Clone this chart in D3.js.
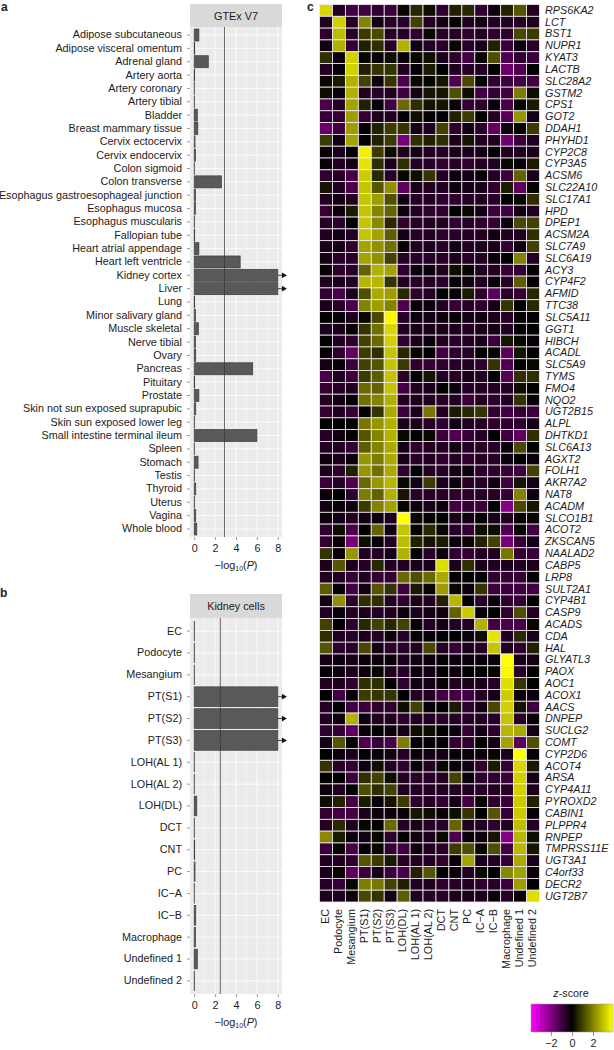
<!DOCTYPE html>
<html lang="en">
<head>
<meta charset="UTF-8">
<title>Kidney heritability panels</title>
<script src="https://d3js.org/d3.v7.min.js"></script>
<style>
    html, body {margin: 0; padding: 0; background: #fff;}
    svg {display: block;}
    text {font-family: "Liberation Sans", Arial, sans-serif; fill: #1c1c1c;}
</style>
</head>
<body>
<svg id="figure" width="614" height="1050"></svg>
<script>
// panel a
let tissues = ["Adipose subcutaneous","Adipose visceral omentum","Adrenal gland","Artery aorta","Artery coronary","Artery tibial","Bladder","Breast mammary tissue","Cervix ectocervix","Cervix endocervix","Colon sigmoid","Colon transverse","Esophagus gastroesophageal junction","Esophagus mucosa","Esophagus muscularis","Fallopian tube","Heart atrial appendage","Heart left ventricle","Kidney cortex","Liver","Lung","Minor salivary gland","Muscle skeletal","Nerve tibial","Ovary","Pancreas","Pituitary","Prostate","Skin not sun exposed suprapubic","Skin sun exposed lower leg","Small intestine terminal ileum","Spleen","Stomach","Testis","Thyroid","Uterus","Vagina","Whole blood"]
let tissue_p = [0.45,0.05,1.35,0.05,0.03,0.03,0.3,0.35,0.08,0.12,0.03,2.6,0.12,0.12,0.04,0.05,0.45,4.4,8,8,0.05,0.12,0.4,0.12,0.15,5.6,0.05,0.45,0.15,0.04,6,0.03,0.37,0.04,0.15,0.04,0.15,0.25]
let tissue_cutoff = 2.9

// panel b
let cell_types = ["EC","Podocyte","Mesangium","PT(S1)","PT(S2)","PT(S3)","LOH(DL)","LOH(AL 1)","LOH(AL 2)","DCT","CNT","PC","IC−A","IC−B","Macrophage","Undefined 1","Undefined 2"]
let cell_order_b = ["EC","Podocyte","Mesangium","PT(S1)","PT(S2)","PT(S3)","LOH(AL 1)","LOH(AL 2)","LOH(DL)","DCT","CNT","PC","IC−A","IC−B","Macrophage","Undefined 1","Undefined 2"]
let cell_p = [0.03,0.03,0.03,8,8,8,0.02,0.02,0.25,0.02,0.05,0.08,0.02,0.15,0.12,0.3,0.04]
let cell_cutoff = 2.5

let p_ticks = [0,2,4,6,8]
let p_minor = [1,3,5,7]
let p_cap = 8

// panel c, one row per gene, same order as cell_types
let genes = ["RPS6KA2","LCT","BST1","NUPR1","KYAT3","LACTB","SLC28A2","GSTM2","CPS1","GOT2","DDAH1","PHYHD1","CYP2C8","CYP3A5","ACSM6","SLC22A10","SLC17A1","HPD","DPEP1","ACSM2A","SLC7A9","SLC6A19","ACY3","CYP4F2","AFMID","TTC38","SLC5A11","GGT1","HIBCH","ACADL","SLC5A9","TYMS","FMO4","NQO2","UGT2B15","ALPL","DHTKD1","SLC6A13","AGXT2","FOLH1","AKR7A2","NAT8","ACADM","SLCO1B1","ACOT2","ZKSCAN5","NAALAD2","CABP5","LRP8","SULT2A1","CYP4B1","CASP9","ACADS","CDA","HAL","GLYATL3","PAOX","AOC1","ACOX1","AACS","DNPEP","SUCLG2","COMT","CYP2D6","ACOT4","ARSA","CYP4A11","PYROXD2","CABIN1","PLPPR4","RNPEP","TMPRSS11E","UGT3A1","C4orf33","DECR2","UGT2B7"]
let zscores = [
[3.3,-.5,-1,-1,-.7,-.9,.1,.6,.2,-.7,.5,.6,-.7,-.2,.5,1.3,-.5],
[-.5,3.2,-.5,2,-.3,-.6,-.6,1,-.5,-.3,.05,-.5,-.3,-.5,-.5,-.6,-.4],
[-.7,2.9,-.6,.9,1.1,-.6,-.6,-.7,.1,-.6,-.6,-.7,-.5,-.7,-.7,1.1,.9],
[-.3,2.7,-.8,.5,.7,-.6,2.7,-.2,-.5,-.6,.1,-.6,-.4,.5,-.9,-.2,-.6],
[.7,-.2,3.2,.1,-.1,.2,-.1,.1,.2,-.4,-.7,-1,.1,1.2,-1.2,-.7,-.9],
[-.5,-.1,3.2,.5,.8,.8,-.5,-.1,.4,0,-.5,-.6,-.5,0,-1.6,-1.2,0],
[.1,.4,2.7,1,-.2,.8,-1.1,.1,.05,.3,-1.2,1.1,.05,-.7,-.9,-1,-1],
[.2,-.2,2.7,-.5,-.6,-.5,-1,-.3,.3,.3,1.2,.2,-1,-.8,-1,1.9,.2],
[-1.1,-.6,2.5,.5,-.1,-1,1.6,.7,.3,.3,-.2,-.8,-.7,-.2,-1.1,.1,.4],
[-.8,-.8,2.4,-.8,-.4,-.5,0,.2,0,0,.5,.9,0,-.6,-1.3,2.3,-.3],
[-1.6,-1,2.4,-.1,.5,.9,.8,-.3,-.5,1,-.7,-.3,-.6,-1.5,-.3,.1,.9],
[.9,-.3,2.5,0,.5,.9,-1.8,.7,.5,.7,-.4,.3,-.5,-.5,-1.7,-.9,-.5],
[-.2,-.4,0,3.7,.9,.2,-.5,-.3,-.5,-.5,-.4,-.4,-.3,-.1,-.5,-.5,-.4],
[-.1,-.5,-.3,3.5,.7,-.4,.7,-.5,-.6,-.7,-.6,-.7,-.5,-.5,.1,-.1,.4],
[-.7,-.6,-1.1,3.1,.6,-.6,.1,.2,.8,-.5,-.2,-.3,-.1,-.5,-.9,1.5,-.4],
[.3,-.5,-1.2,3,1.3,2.2,-1.4,-.4,-.5,-.5,-.2,-.3,-.4,-.7,.4,-1.4,.05],
[-.5,-.3,-.5,3,2.4,1.2,-.3,-.6,-.5,-.7,-.7,-.6,-.5,-.6,0,.1,.7],
[-.8,-.2,.4,3,2,1.5,-.2,-.5,-.7,-.7,0,.1,-.3,-.9,-1,-.3,-.5],
[-.6,-.7,0,3,2.1,.6,-.7,-.6,-.5,-.5,-.8,-.6,-.7,-.8,-.2,1.1,1],
[-.5,-.3,-.5,3,2.5,1.4,-.3,-.6,-.5,-.7,-.6,-.6,-.5,-.3,-.5,-.5,.7],
[-.4,-.3,-.7,2.5,2.2,1.7,-.1,-.5,-.4,-.6,-.3,-.5,-.4,-.4,-.8,-.2,1],
[-.3,-.6,-.6,2.5,2.2,1,-.6,-.6,-.6,-.6,-.4,-.6,-.5,-.2,0,2,-.5],
[-.1,-.7,-.6,1.5,2.7,2.5,-.7,-.2,-.2,-.5,.2,.1,-.5,-.5,-.8,-.8,0],
[-.5,-.4,-.5,2.8,2.8,.8,-.5,-.6,-.5,-.6,-.1,-.3,-.5,-.1,-.6,1.4,-.1],
[-.7,-1.1,-.4,1.2,2.6,2.4,.6,-.7,-.5,0,-.1,.4,-.7,-1.4,-.6,-.8,.6],
[-.4,-.6,-1.1,2,2.4,2,-1.2,-.1,-.2,-.5,-.8,-.6,-.7,-.3,.8,0,.6],
[0,-.1,-.4,.1,1.1,3.8,-.6,-.2,-.3,-.2,-.1,-.3,-.2,-.4,-.6,-.1,0],
[-.4,-.4,-.1,.8,1.7,3.3,-.5,-.4,-.4,-.4,-.4,-.5,-.4,-.3,-.5,0,0],
[0,-.5,-.7,1,1.6,3.2,-.7,-.4,-.2,-.5,-.6,-.5,-.4,-.9,.3,.1,-.1],
[-.1,-.7,-1.5,.9,.7,3,.6,.1,0,-1,-.7,-.6,0,.1,-1.4,.3,0],
[-.3,-.1,-.9,1,1.3,3,.9,-.7,-.8,-.7,-.6,-.6,-.7,.8,-1.2,0,.1],
[-1.1,-.5,-.9,.9,1.4,3,-.6,0,.3,-.5,-.5,-.4,-.5,-.1,-1.3,.7,.7],
[-.8,-.6,-.5,1.6,1.5,3,-1,-.5,-.4,0,-.2,-.6,-.5,-.5,-.6,.2,0],
[-.5,-.3,0,1.7,2,2.7,-.5,-.4,-.5,-.6,-.5,-.9,-.5,-.7,-.5,.8,-.1],
[-.8,-.5,-.8,-.05,.8,2.6,-.9,-.4,1.8,-.5,.4,.6,.8,-.8,-1,-.8,-.9],
[0,0,0,1.8,2.3,2.7,-.4,-.4,-.6,-.7,-.3,-.5,-.6,-.7,-.7,-.7,-.3],
[-.6,-.2,0,1.3,2,2.7,.1,0,.1,-.9,-1.2,-.8,-.5,0,-.9,-1.4,.7],
[-.5,-.5,-.8,1.4,2,2.6,-.3,-.7,-.5,-.5,-.3,-.5,-.6,-.6,-.2,1.1,0],
[-.2,-.4,-.1,2.3,1.9,2.6,-.4,-.6,-.5,-.7,-.6,-.7,-.5,-.6,-.2,0,-.2],
[-.4,-.7,.5,2.3,1.7,2.6,-.7,0,-.5,-.6,-.3,-.2,-.6,-.7,-.8,-1,1],
[-.9,-.6,-1.2,1.6,2.3,2.8,.1,-.3,.9,-.4,-.2,-.6,-.6,-.3,-1,.3,-.3],
[-.2,0,-.7,1.9,1.5,2.7,.3,-.6,-.6,-.6,-.7,-.7,-.6,-.6,-.8,2,-.2],
[-.3,-.1,-.2,.9,2,2.5,.1,-.2,-.4,-.2,-1,-.8,-.9,0,-2,1.1,.3],
[-.2,-.3,-.5,-.3,-.2,-.4,3.9,.1,.05,0,-.4,-.3,0,-.4,-.5,-.1,.1],
[-.7,.2,-1.1,0,1.5,-.3,3,0,.6,.1,-.6,-.8,.2,.2,-1.2,.1,-1],
[-.8,-.1,-1.8,.2,-.1,-.5,2.9,.5,.3,.4,-.2,.1,.5,1,-1.8,-.8,-.3],
[.8,-.2,2.3,-.5,-.5,-.3,2.7,-.1,-.6,-.2,-.7,-.8,-.5,-.4,1.8,-.8,-.8],
[-.4,1.3,-.4,-.6,.6,-.5,-.5,-.4,-.4,3.4,-.4,.7,-.4,-.5,-.4,-.5,-.4],
[-.5,-.5,-.8,-.5,-.8,-.8,1.6,1.2,1.6,2.6,0,0,0,-.7,-.8,-.8,0],
[1.4,-.1,-1,-.3,1.3,.8,-1,.4,.1,2.4,.1,-.2,.8,-.9,-.9,-1,-1],
[-.3,2.2,-.7,.7,.7,-.5,-.7,-.4,-.5,.5,2.8,0,-.6,-.2,-.7,-.8,0],
[-.5,-.2,-.5,-.4,-.5,-.5,-.2,-.4,-.3,-.2,1.5,3.1,-.1,0,-.7,1.2,-.5],
[1,0,-.7,.6,1,.6,1,-.1,-.5,-.3,-.5,-.5,2.7,-1,-1.1,-1.1,.1],
[.7,-.5,-.6,-.4,-.5,-.2,-.6,-.1,-.1,0,0,-.2,.2,3.5,-.5,.6,-.4],
[1.3,-.7,-.6,1.1,-.3,-.7,-.6,-.5,1.1,-.5,-.8,-.4,-.6,3,-.5,-.7,.5],
[-.3,-.2,-.3,-.2,-.2,-.1,-.4,-.3,-.2,-.1,-.2,-.2,-.1,-.2,3.9,-.4,-.3],
[-.1,-.3,-.4,-.2,.1,-.5,-.6,-.2,-.3,0,-.2,0,0,.1,3.8,-.6,0],
[-.5,-.4,-.7,.7,.7,0,-.7,-.3,-.3,-.1,-.5,-.4,-.4,-.6,3.4,.8,0],
[0,-1,-.1,.9,.8,.8,0,-.5,-.5,-1,-1,-1,-.5,-.3,3.1,-.2,-.2],
[-.6,0,-1,-.9,-.7,-.7,.2,1,-.1,0,.4,-.7,-.3,1.1,3.2,.3,-.9],
[-.5,-.3,2.7,-.2,-.5,-.5,-.7,-.5,-.5,-.7,-.5,-.6,-.5,-.6,3,-.6,-.1],
[-.7,-.8,-1.4,-.1,0,-.2,-.3,.2,.2,0,-.2,-.8,-.3,-.7,2.8,2.6,-.3],
[-.3,1.3,0,-1.2,-.8,-1.1,1.9,0,-.1,0,-.8,-.7,0,-.3,2.5,-1.4,1.2],
[0,-.2,-.4,-.1,-.1,-.3,-.5,-.2,-.3,-.3,-.1,-.2,-.2,.1,-.4,3.9,-.1],
[.8,-.6,-.7,-.2,.2,-.5,-.7,-.1,-.5,.1,-.1,-.3,-.7,.4,-.8,3.3,.4],
[0,0,-.9,.7,1,.2,-.5,-.6,-.6,-.5,1,-.1,-.7,-.7,-.9,3.2,-.3],
[-.2,-.5,0,1.2,.7,1,-.5,-.5,-.5,-.5,-.6,-.5,-.6,-.5,-.6,3.2,-.4],
[.2,.5,-1,.4,-.1,.3,.9,-.7,-.5,-.8,-.3,-1,.1,-.7,-.9,3.1,.5],
[-.8,-1,-1,-.4,-.2,-.2,-.1,.3,.2,-.1,.2,.8,0,1.3,-.8,3.1,-.1],
[-.5,.6,-.4,.1,0,1.6,-.5,-.4,-.6,-.6,1.5,-.5,-.5,-.7,-.5,2.9,-.5],
[2.1,.4,-.2,-.3,.1,-.7,0,-.3,-.4,.1,-1.1,-.1,-.2,.3,-2,2.8,.2],
[-.9,.1,-1.1,-.1,.1,-.8,-1,-.2,-.5,-.6,.9,1.2,.1,1.2,-1,2.8,.3],
[-.5,-.5,-.7,1.3,.9,.4,-.6,-.5,-.5,-.7,-.1,2.5,-.4,-.5,-.8,2.6,-.4],
[-.4,.1,-1.4,-.9,-.3,-.9,-1.1,.5,1.3,0,-.1,-.5,.1,0,2.1,2.5,-.2],
[-.6,-.8,.1,1.9,1.8,1,.5,-.5,-.5,-.7,-.6,-.5,-.7,-.6,-.9,2.4,-.05],
[-.4,-.4,-.2,1.1,.8,-.3,1.4,-.4,-.6,-.6,-.4,-.4,-.4,-.2,-.5,-.1,3.4]
]
let z_ticks = [-2,0,2]
let z_limit = 3.9

let svg = d3.select("#figure")
let label_size = 10.8

// magenta, black, yellow
let z_color = d3.scaleLinear()
    .domain([-z_limit,0,z_limit])
    .range(["#ff00ff","#000000","#ffff00"])

function bar_panel(names, values, cutoff, title, top, strip_h, bottom) {
    let x = d3.scaleLinear().domain([-0.4,8.4]).range([190,282])
    let y = d3.scaleBand().domain(names).range([top + strip_h, bottom]).paddingInner(0.1).paddingOuter(0.15)
    let g = svg.append("g")

    g.append("rect").attr("x",x.range()[0]).attr("y",top)
        .attr("width",x.range()[1]-x.range()[0]).attr("height",strip_h).attr("fill","#d9d9d9")
    g.append("text").attr("x",d3.mean(x.range())).attr("y",top+strip_h/2+4)
        .attr("text-anchor","middle").attr("font-size",label_size).text(title)
    g.append("rect").attr("x",x.range()[0]).attr("y",top+strip_h)
        .attr("width",x.range()[1]-x.range()[0]).attr("height",bottom-top-strip_h).attr("fill","#ebebeb")

    // grid
    g.selectAll(".minor").data(p_minor).join("line")
        .attr("x1",d=>x(d)).attr("x2",d=>x(d)).attr("y1",top+strip_h).attr("y2",bottom)
        .attr("stroke","#fff").attr("stroke-width",0.4)
    g.selectAll(".major").data(p_ticks).join("line")
        .attr("x1",d=>x(d)).attr("x2",d=>x(d)).attr("y1",top+strip_h).attr("y2",bottom)
        .attr("stroke","#fff").attr("stroke-width",0.8)
    g.selectAll(".hgrid").data(names).join("line")
        .attr("x1",x.range()[0]).attr("x2",x.range()[1])
        .attr("y1",d=>y(d)+y.bandwidth()/2).attr("y2",d=>y(d)+y.bandwidth()/2)
        .attr("stroke","#fff").attr("stroke-width",0.8)

    // bars
    g.selectAll(".bar").data(names).join("rect")
        .attr("x",x(0))
        .attr("y",d=>y(d))
        .attr("width",(d,i)=>x(values[i])-x(0))
        .attr("height",y.bandwidth())
        .attr("fill","#595959").attr("stroke","#3d3d3d").attr("stroke-width",0.7)

    // cutoff line
    g.append("line").attr("x1",x(cutoff)).attr("x2",x(cutoff))
        .attr("y1",top+strip_h).attr("y2",bottom)
        .attr("stroke","#333").attr("stroke-width",0.7)

    // arrows for the bars past the axis limit
    let capped = names.filter((d,i)=>values[i]>=p_cap)
    g.selectAll(".arrow").data(capped).join("line")
        .attr("x1",x(p_cap)).attr("x2",x(8.4))
        .attr("y1",d=>y(d)+y.bandwidth()/2).attr("y2",d=>y(d)+y.bandwidth()/2)
        .attr("stroke","#111").attr("stroke-width",0.8)
    g.selectAll(".head").data(capped).join("path")
        .attr("d",d3.symbol(d3.symbolTriangle,14))
        .attr("transform",d=>`translate(${x(8.55)},${y(d)+y.bandwidth()/2}) rotate(90)`)
        .attr("fill","#111")

    // axes
    let ax_y = g.append("g").attr("transform",`translate(${x.range()[0]},0)`)
        .call(d3.axisLeft(y).tickSize(3).tickPadding(5))
    ax_y.select(".domain").remove()
    ax_y.selectAll("text").attr("font-size",label_size).attr("font-family",null)
    ax_y.selectAll("line").attr("stroke","#555").attr("stroke-width",0.6)

    let ax_x = g.append("g").attr("transform",`translate(0,${bottom})`)
        .call(d3.axisBottom(x).tickValues(p_ticks).tickSize(3).tickPadding(4))
    ax_x.select(".domain").remove()
    ax_x.selectAll("text").attr("font-size",label_size).attr("font-family",null)
    ax_x.selectAll("line").attr("stroke","#555").attr("stroke-width",0.6)

    // -log10(P)
    let t = g.append("text").attr("x",d3.mean(x.range())).attr("y",bottom+32)
        .attr("text-anchor","middle").attr("font-size",label_size)
    t.append("tspan").text("−log")
    t.append("tspan").attr("font-size",7).attr("dy",2).text("10")
    t.append("tspan").attr("dy",-2).text("(")
    t.append("tspan").attr("font-style","italic").text("P")
    t.append("tspan").text(")")
}

bar_panel(tissues, tissue_p, tissue_cutoff, "GTEx V7", 4, 23, 537)
bar_panel(cell_order_b, cell_p, cell_cutoff, "Kidney cells", 594, 24, 994)

// heatmap
let hx = d3.scaleBand().domain(cell_types).range([319.5,539.5])
let hy = d3.scaleBand().domain(genes).range([4.5,902])

let rows = svg.append("g").selectAll("g").data(zscores).join("g")
    .attr("transform",(d,i)=>`translate(0,${hy(genes[i])})`)
rows.selectAll("rect").data(d=>d).join("rect")
    .attr("x",(d,i)=>hx(cell_types[i]))
    .attr("width",hx.bandwidth())
    .attr("height",hy.bandwidth())
    .attr("fill",d=>z_color(d))
    .attr("stroke","#f4eef4").attr("stroke-width",0.8)

let ax_genes = svg.append("g").attr("transform","translate(539.5,0)")
    .call(d3.axisRight(hy).tickSize(0).tickPadding(5.5))
ax_genes.select(".domain").remove()
ax_genes.selectAll("text").attr("font-size",label_size).attr("font-style","italic").attr("font-family",null)

let ax_cells = svg.append("g").attr("transform","translate(0,902)")
    .call(d3.axisBottom(hx).tickSize(0))
ax_cells.select(".domain").remove()
ax_cells.selectAll("text")
    .attr("font-size",label_size).attr("font-family",null)
    .attr("text-anchor","end").attr("dy",null)
    .attr("transform","rotate(-90)")
    .attr("x",-7).attr("y",0).attr("dominant-baseline","middle")

// colour key
let key_x = d3.scaleLinear().domain([-z_limit,z_limit]).range([531,613])
let grad = svg.append("defs").append("linearGradient").attr("id","zkey")
grad.selectAll("stop").data(z_color.domain()).join("stop")
    .attr("offset",d=>(key_x(d)-531)/82)
    .attr("stop-color",d=>z_color(d))
svg.append("rect").attr("x",531).attr("y",1004).attr("width",82).attr("height",28)
    .attr("fill","url(#zkey)").attr("stroke","#999").attr("stroke-width",0.5)
let ax_key = svg.append("g").attr("transform","translate(0,1032)")
    .call(d3.axisBottom(key_x).tickValues(z_ticks).tickSize(4).tickPadding(3)
        .tickFormat(d=>d<0?"−"+Math.abs(d):d))
ax_key.select(".domain").remove()
ax_key.selectAll("text").attr("font-size",label_size).attr("font-family",null)
ax_key.selectAll("line").attr("stroke","#555").attr("stroke-width",0.6)

let key_title = svg.append("text").attr("x",571).attr("y",997).attr("text-anchor","middle").attr("font-size",label_size)
key_title.append("tspan").attr("font-style","italic").text("z")
key_title.append("tspan").text("-score")

// panel letters
svg.selectAll(".letter").data([["a",1,11],["b",0,597],["c",307,11]]).join("text")
    .attr("x",d=>d[1]).attr("y",d=>d[2]).attr("font-size",12).attr("font-weight","bold").attr("fill","#000")
    .text(d=>d[0])
</script>
</body>
</html>
